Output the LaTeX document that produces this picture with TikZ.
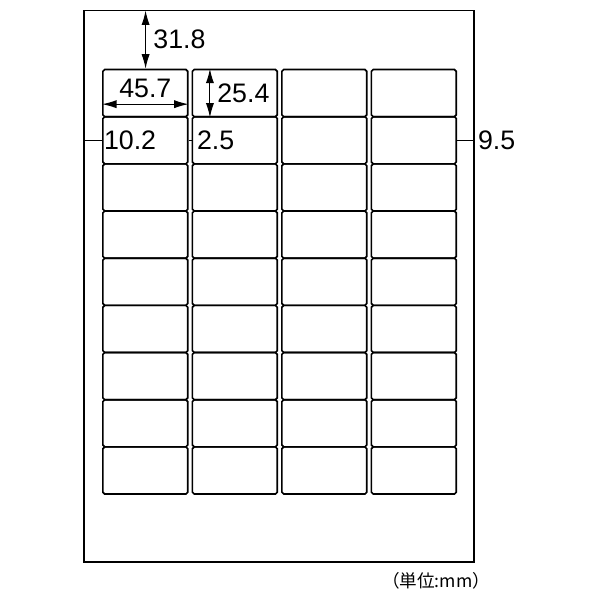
\documentclass[tikz,border=0pt]{standalone}
\usepackage{fontspec}
\setmainfont{Liberation Sans}
\newfontfamily\jpfont{Noto Sans CJK JP}
\usetikzlibrary{arrows.meta,positioning,calc}

\begin{document}
\begin{tikzpicture}[x=1mm,y=1mm,
    sheet/.style={draw,line width=0.9mm,minimum width=210mm,minimum height=297mm,inner sep=0pt},
    lbl/.style={draw,line width=0.9mm,rounded corners=1mm,minimum width=45.7mm,minimum height=25.4mm,inner sep=0pt},
    dimarr/.style={line width=0.6mm,{Latex[length=7.8mm,width=4.4mm]}-{Latex[length=7.8mm,width=4.4mm]}},
    dimline/.style={line width=0.6mm},
    dimtxt/.style={font=\fontsize{41}{41}\selectfont,inner sep=0pt}]
    \useasboundingbox (-45.2,-20.45) rectangle (277.9,302.65);

    \node[sheet] (sheet) at (105,148.5) {};
    \foreach \c in {1,...,4}
        \foreach \r in {1,...,9}
            \node[lbl] (l\c\r) at ({33.05+(\c-1)*48.2},{252.5-(\r-1)*25.4}) {};

    \coordinate (top) at (33.2,297);
    \draw[dimarr] (top) -- (top |- l11.north) node[midway,right=3.9mm,dimtxt]{31.8};
    \draw[dimarr] ([yshift=7.2mm]l11.south west) -- ([yshift=7.2mm]l11.south east)
        node[midway,above=3mm,dimtxt]{45.7};
    \draw[dimarr] ([xshift=9.9mm]l21.north west) -- ([xshift=9.9mm]l21.south west)
        node[midway,right=3.7mm,dimtxt]{25.4};

    \draw[dimline] (sheet.west |- l12.west) -- (l12.west);
    \node[dimtxt,right=1mm of l12.west] (m102) {10.2};
    \draw[dimline] (l12.east) -- (l22.west);
    \node[dimtxt,right=2.9mm of l22.west] (m25) {2.5};
    \draw[dimline] (l42.east) -- (sheet.east |- l42.east);
    \node[dimtxt,right=1.7mm of sheet.east |- l42.east] (m95) {9.5};

    \node[anchor=east,inner sep=0pt,font=\jpfont\fontsize{27}{27}\selectfont] (unit)
        at ($(sheet.south east)+(8.3,-9.9)$) {（単位:mm）};
\end{tikzpicture}
\end{document}
